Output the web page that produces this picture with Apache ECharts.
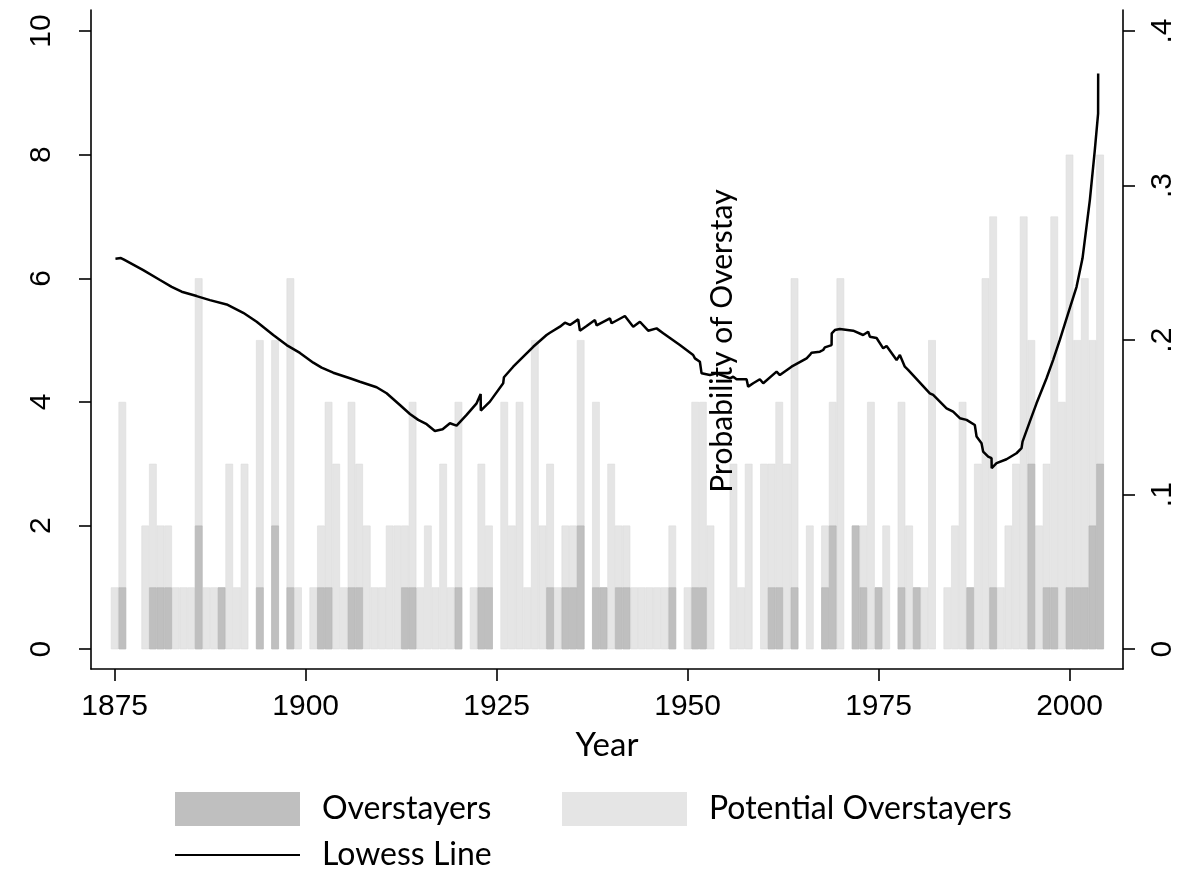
<!DOCTYPE html>
<html><head><meta charset="utf-8">
<script src="https://cdn.jsdelivr.net/npm/echarts@6/dist/echarts.min.js"></script>
<style>html,body{margin:0;padding:0;background:#fff}#c{width:1186px;height:871px}</style>
</head><body><div id="c"></div>
<script>
const firstYear = 1875;
// Potential overstayers per year, 1875..2004
const potential = [
  1,4,0,0,2,3,2,2,1,1,
  1,6,1,1,1,3,1,3,0,5,
  0,5,0,6,1,0,1,2,4,3,
  1,4,3,2,1,1,2,2,2,4,
  1,2,1,3,1,4,0,1,3,2,
  0,4,2,4,1,5,2,3,1,2,
  2,5,0,4,1,3,2,2,1,1,
  1,1,1,2,0,1,4,4,2,0,
  0,3,1,3,0,3,3,4,3,6,
  0,2,0,2,4,6,0,2,2,4,
  1,2,0,4,2,1,1,5,0,1,
  2,4,1,3,6,7,1,2,3,7,
  5,2,3,7,4,8,5,6,5,8
];
// Overstayers per year, 1875..2004
const overstayers = [
  0,1,0,0,0,1,1,1,0,0,
  0,2,0,0,1,0,0,0,0,1,
  0,2,0,1,0,0,0,1,1,0,
  0,1,1,0,0,0,0,0,1,1,
  0,0,0,0,0,1,0,0,1,1,
  0,0,0,0,0,0,0,1,0,1,
  1,2,0,1,1,0,1,1,0,0,
  0,0,0,1,0,0,1,1,0,0,
  0,0,0,0,0,0,1,1,0,1,
  0,0,0,1,2,0,0,2,1,0,
  1,0,0,1,0,1,0,0,0,0,
  0,0,1,0,0,1,0,0,0,0,
  3,0,1,1,0,1,1,1,2,3
];
const lowessYears = [
  1875.10,1875.82,1876.22,1878.74,1880.93,1882.46,1883.77,1885.73,1887.47,1889.66,
  1891.83,1893.59,1895.76,1897.51,1899.25,1901.00,1902.09,1903.61,1905.80,1907.11,
  1909.29,1910.60,1912.34,1913.65,1914.74,1915.84,1916.92,1917.93,1918.89,1919.76,
  1921.07,1922.38,1922.91,1922.93,1924.12,1925.86,1925.96,1927.17,1929.79,1931.54,
  1931.98,1933.29,1933.94,1934.60,1935.68,1935.90,1936.78,1937.87,1938.09,1939.83,
  1940.05,1941.79,1942.88,1943.76,1944.84,1945.94,1946.81,1948.99,1950.73,1950.96,
  1951.61,1951.83,1952.92,1953.80,1955.54,1955.97,1956.41,1957.72,1957.93,1958.59,
  1959.46,1959.90,1961.65,1962.08,1963.61,1965.58,1966.01,1966.23,1967.32,1967.75,
  1967.97,1968.85,1968.87,1969.28,1969.93,1971.68,1972.98,1973.64,1973.86,1974.74,
  1975.61,1976.05,1977.36,1977.79,1978.44,1978.87,1981.71,1982.15,1983.90,1984.76,
  1985.64,1986.52,1987.60,1987.83,1988.48,1988.69,1989.35,1989.79,1989.81,1990.45,
  1991.75,1993.06,1993.72,1993.85,1994.80,1995.68,1996.99,1997.85,1998.73,1999.82,
  2000.92,2001.70,2002.66,2003.31,2003.74,2003.75
];
const lowessProb = [
  0.2527,0.2531,0.2521,0.2453,0.2389,0.2345,0.2313,0.2285,0.2259,0.2231,
  0.2177,0.2119,0.2033,0.1968,0.1917,0.1854,0.1822,0.1789,0.1753,0.1731,
  0.1695,0.1656,0.1580,0.1522,0.1484,0.1456,0.1412,0.1423,0.1462,0.1447,
  0.1516,0.1591,0.1652,0.1544,0.1602,0.1721,0.1760,0.1828,0.1957,0.2033,
  0.2048,0.2087,0.2113,0.2098,0.2134,0.2061,0.2091,0.2130,0.2096,0.2141,
  0.2109,0.2156,0.2087,0.2119,0.2061,0.2076,0.2044,0.1968,0.1904,0.1882,
  0.1860,0.1785,0.1774,0.1785,0.1753,0.1763,0.1747,0.1747,0.1699,0.1721,
  0.1747,0.1721,0.1796,0.1774,0.1828,0.1882,0.1904,0.1919,0.1925,0.1936,
  0.1953,0.1968,0.2044,0.2065,0.2072,0.2061,0.2033,0.2054,0.2022,0.2014,
  0.1947,0.1962,0.1871,0.1904,0.1828,0.1807,0.1656,0.1645,0.1559,0.1537,
  0.1495,0.1484,0.1451,0.1376,0.1333,0.1279,0.1246,0.1236,0.1171,0.1204,
  0.1229,0.1268,0.1301,0.1343,0.1473,0.1591,0.1753,0.1871,0.2001,0.2173,
  0.2345,0.2529,0.2906,0.3229,0.3466,0.3725
];
const xTicks = [1875,1900,1925,1950,1975,2000];
const leftTicks = [0,2,4,6,8,10];
const rightTicks = [0,0.1,0.2,0.3,0.4];

const years = potential.map((_, i) => firstYear + i);
const potData = years.map((y, i) => potential[i] ? [y, potential[i]] : null).filter(Boolean);
const ovData = years.map((y, i) => overstayers[i] ? [y, overstayers[i]] : null).filter(Boolean);
const lineData = lowessYears.map((y, i) => [y, lowessProb[i]]);

const tickFont = 'Liberation Sans, Arial, sans-serif';
const textFont = 'Lato, Liberation Sans, sans-serif';
const axisLine = {show: true, onZero: false, lineStyle: {color: '#000', width: 1.6}};
const tickStyle = {color: '#000', width: 1.6};
const legendText = {fontSize: 32, color: '#000', fontFamily: textFont, padding: [0, 0, 0, 17]};

const chart = echarts.init(document.getElementById('c'), null, {renderer: 'canvas'});
chart.setOption({
  animation: false,
  backgroundColor: '#fff',
  grid: {left: 91, right: 63, top: 10, bottom: 202},
  xAxis: {
    type: 'value', min: 1871.9, max: 2007.0,
    axisLine: axisLine,
    axisTick: {show: true, length: 12, customValues: xTicks, lineStyle: tickStyle},
    axisLabel: {customValues: xTicks, fontSize: 30, color: '#000', margin: 23, fontFamily: tickFont,
      formatter: v => String(v)},
    splitLine: {show: false},
    name: 'Year', nameLocation: 'middle', nameGap: 60,
    nameTextStyle: {fontSize: 33, color: '#000', fontFamily: textFont}
  },
  yAxis: [{
    type: 'value', position: 'left', min: -0.32, max: 10.34,
    axisLine: axisLine,
    axisTick: {show: true, length: 12, customValues: leftTicks, lineStyle: tickStyle},
    axisLabel: {customValues: leftTicks, rotate: 90, fontSize: 30, color: '#000', margin: 34, fontFamily: tickFont},
    splitLine: {show: false}
  }, {
    type: 'value', position: 'right', min: -0.0128, max: 0.4136,
    axisLine: axisLine,
    axisTick: {show: true, length: 12, customValues: rightTicks, lineStyle: tickStyle},
    axisLabel: {customValues: rightTicks, rotate: 90, fontSize: 30, color: '#000', margin: 25, fontFamily: tickFont,
      formatter: v => v === 0 ? '0' : '.' + Math.round(v * 10)},
    splitLine: {show: false}
  }],
  legend: [{
    data: ['Overstayers'], left: 175, top: 792, padding: 0,
    itemWidth: 125, itemHeight: 34, icon: 'rect', itemStyle: {borderWidth: 0},
    textStyle: legendText
  }, {
    data: ['Potential Overstayers'], left: 562, top: 792, padding: 0,
    itemWidth: 125, itemHeight: 34, icon: 'rect', itemStyle: {borderWidth: 0},
    textStyle: legendText
  }, {
    data: ['Lowess Line'], left: 175, top: 839, padding: 0,
    itemWidth: 125, itemHeight: 2, icon: 'rect', itemStyle: {color: '#000', borderWidth: 0},
    textStyle: legendText
  }],
  graphic: [{
    type: 'text', x: 722, y: 341, rotation: Math.PI / 2, z: 100,
    style: {text: 'Probability of Overstay', fontSize: 30, fill: '#000', fontFamily: textFont,
      align: 'center', verticalAlign: 'middle'}
  }],
  series: [{
    name: 'Potential Overstayers', type: 'bar', data: potData,
    barWidth: 7.6, barGap: '-100%',
    itemStyle: {color: '#e5e5e5', borderColor: '#dcdcdc', borderWidth: 0.6},
    z: 2
  }, {
    name: 'Overstayers', type: 'bar', data: ovData,
    barWidth: 7.6, barGap: '-100%',
    itemStyle: {color: '#bfbfbf', borderColor: '#b6b6b6', borderWidth: 0.6},
    z: 3
  }, {
    name: 'Lowess Line', type: 'line', yAxisIndex: 1, data: lineData,
    symbol: 'none', showSymbol: false,
    lineStyle: {color: '#000', width: 2.5}, itemStyle: {color: '#000'},
    z: 5
  }]
});
</script></body></html>
